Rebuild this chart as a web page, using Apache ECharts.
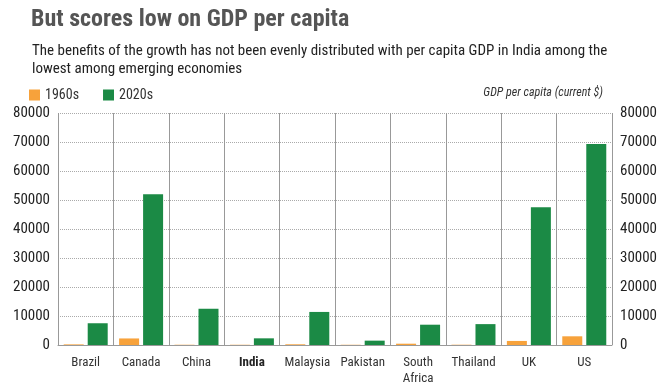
<!DOCTYPE html>
<html><head><meta charset="utf-8">
<script src="https://cdn.jsdelivr.net/npm/echarts@6/dist/echarts.min.js"></script>
<style>html,body{margin:0;padding:0;background:#fff}#c{width:660px;height:387px}</style>
</head><body><div id="c"></div>
<script>
const categories = ['Brazil','Canada','China','India','Malaysia','Pakistan','South\nAfrica','Thailand','UK','US'];
const gdp1960s = [210, 2260, 90, 85, 240, 80, 450, 100, 1400, 3000];
const gdp2020s = [7500, 52000, 12500, 2300, 11400, 1500, 7000, 7200, 47500, 69300];
const yTicks = [0, 10000, 20000, 30000, 40000, 50000, 60000, 70000, 80000];
const seriesNames = ['1960s', '2020s'];

const FONT = '"Liberation Sans Narrow", "Roboto Condensed", Roboto, sans-serif';
const chart = echarts.init(document.getElementById('c'), null, {renderer:'canvas'});
const yAxisBase = {
  type:'value', min:yTicks[0], max:yTicks[yTicks.length-1], interval:10000,
  axisLine:{show:false}, axisTick:{show:false},
  axisLabel:{color:'#222', fontSize:15, fontFamily:FONT, margin:8, formatter:v => String(v)},
};
chart.setOption({
  animation:false,
  textStyle:{fontFamily:FONT},
  title:[
    {text:'But scores low on GDP per capita', left:26, top:3,
     textStyle:{fontSize:24, fontWeight:'bold', color:'#555', fontFamily:FONT}},
    {text:'The benefits of the growth has not been evenly distributed with per capita GDP in India among the\nlowest among emerging economies',
     left:27, top:37, textStyle:{fontSize:15, fontWeight:'normal', color:'#222', lineHeight:18, fontFamily:FONT}},
    {text:'GDP per capita (current $)', right:52, top:82,
     textStyle:{fontSize:12, fontWeight:'normal', fontStyle:'italic', color:'#333', fontFamily:FONT}}
  ],
  legend:{left:24, top:83, itemWidth:11, itemHeight:11, itemGap:24, icon:'rect',
    textStyle:{fontSize:14, color:'#333', fontFamily:FONT}, data:seriesNames},
  grid:{left:58, right:47, top:113, bottom:42},
  xAxis:{type:'category', data:categories,
    axisLine:{show:true, lineStyle:{color:'#999'}}, axisTick:{show:false},
    splitLine:{show:true, interval:0, lineStyle:{color:'#999', width:1}},
    axisLabel:{interval:0, color:'#333', fontSize:13, margin:10, lineHeight:16, fontFamily:FONT,
      formatter:v => v === 'India' ? '{b|India}' : v,
      rich:{b:{fontWeight:'bold', fontSize:13, color:'#222', fontFamily:FONT}}}
  },
  yAxis:[
    Object.assign({}, yAxisBase, {position:'left',
      splitLine:{show:true, lineStyle:{color:'#aaa', type:[1,1]}}}),
    Object.assign({}, yAxisBase, {position:'right', splitLine:{show:false}})
  ],
  series:[
    {name:seriesNames[0], type:'bar', data:gdp1960s, barWidth:20, barGap:'20%',
     itemStyle:{color:'#f7a23b'}},
    {name:seriesNames[1], type:'bar', data:gdp2020s, barWidth:20,
     itemStyle:{color:'#1b8a45'}}
  ]
});
</script></body></html>
